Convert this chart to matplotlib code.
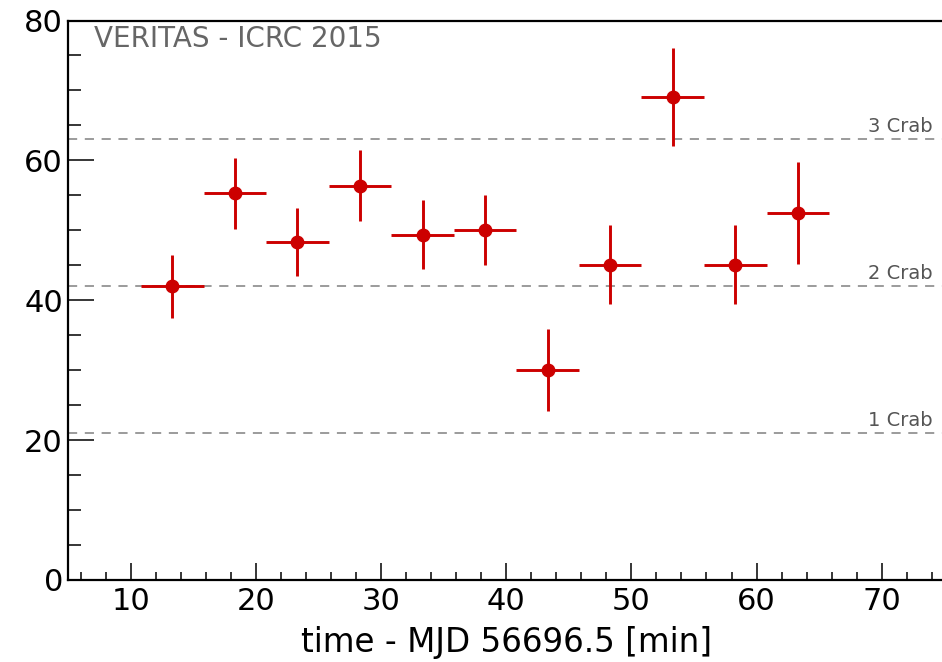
"""
VERITAS light curve (ICRC 2015) - flux per 5 min bin with Crab reference levels.
"""

import matplotlib
matplotlib.use('Agg')
import matplotlib.pyplot as plt
from matplotlib.ticker import MultipleLocator

# wide sans font, the reference text is drawn quite wide
plt.rcParams['font.family'] = ['DejaVu Sans']

# bin centres [min after MJD 56696.5] and half bin width
time = [13.3, 18.3, 23.3, 28.3, 33.3, 38.3, 43.3, 48.3, 53.3, 58.3, 63.3]
time_err = [2.5] * 11
flux = [42.0, 55.3, 48.3, 56.4, 49.4, 50.0, 30.0, 45.1, 69.0, 45.1, 52.5]
flux_err = [4.5, 5.1, 4.9, 5.1, 4.9, 5.0, 5.9, 5.6, 7.0, 5.7, 7.3]

crab_levels = [21, 42, 63]
crab_labels = ['1 Crab', '2 Crab', '3 Crab']

red = '#cc0000'
grey = '#808080'

fig = plt.figure(figsize=(9.42, 6.62), dpi=100)
ax = fig.add_axes([0.0727, 0.1239, 0.9296, 0.8451])

# crab reference lines
for lvl, lab in zip(crab_levels, crab_labels):
    ax.axhline(lvl, color=grey, lw=1.1, ls=(0, (6, 5)), zorder=1)
    ax.text(74.1, lvl + 1.0, lab, ha='right', va='baseline',
            fontsize=14, color='#555555')

ax.errorbar(time, flux, xerr=time_err, yerr=flux_err, fmt='o', color=red,
            ms=9, elinewidth=2.1, capsize=0, zorder=3)

ax.text(7.0, 76.2, 'VERITAS - ICRC 2015', ha='left', va='baseline',
        fontsize=20, color='#666666')

ax.set_xlim(5, 75)
ax.set_ylim(0, 80)
ax.xaxis.set_major_locator(MultipleLocator(10))
ax.xaxis.set_minor_locator(MultipleLocator(2))
ax.yaxis.set_major_locator(MultipleLocator(20))
ax.yaxis.set_minor_locator(MultipleLocator(5))

ax.tick_params(axis='x', which='major', direction='in', length=12, width=1.1,
               labelsize=22, pad=5, top=False)
ax.tick_params(axis='x', which='minor', direction='in', length=6, width=1.1,
               top=False)
ax.tick_params(axis='y', which='major', direction='in', length=19, width=1.1,
               labelsize=22, pad=4, right=False)
ax.tick_params(axis='y', which='minor', direction='in', length=9.5, width=1.1,
               right=False)

for side in ['left', 'bottom', 'top']:
    ax.spines[side].set_linewidth(1.6)
ax.spines['right'].set_visible(False)

ax.set_xlabel('time - MJD 56696.5 [min]', fontsize=23.5, labelpad=7)

fig.savefig('out.png', dpi=100)
